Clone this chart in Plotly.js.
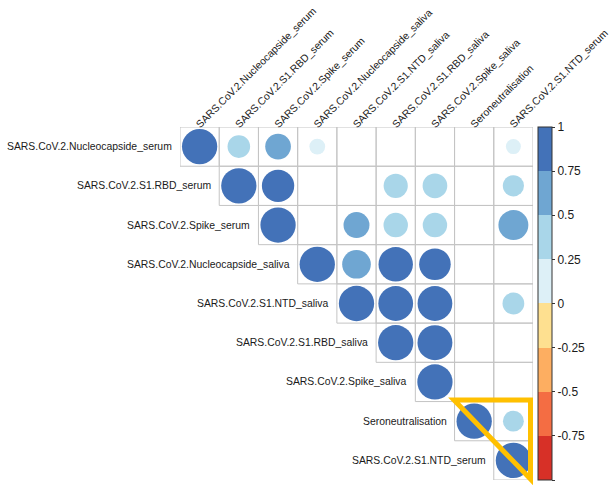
<!DOCTYPE html>
<html>
<head>
<meta charset="utf-8">
<script src="https://cdn.plot.ly/plotly-3.0.1.min.js"></script>
<style>html,body{margin:0;padding:0;background:#fff;}#chart{width:611px;height:487px;}</style>
</head>
<body>
<div id="chart"></div>
<script>
// Variables (same order for rows and columns)
const variables = [
  "SARS.CoV.2.Nucleocapside_serum",
  "SARS.CoV.2.S1.RBD_serum",
  "SARS.CoV.2.Spike_serum",
  "SARS.CoV.2.Nucleocapside_saliva",
  "SARS.CoV.2.S1.NTD_saliva",
  "SARS.CoV.2.S1.RBD_saliva",
  "SARS.CoV.2.Spike_saliva",
  "Seroneutralisation",
  "SARS.CoV.2.S1.NTD_serum"
];

// Upper-triangle correlations (null = not significant / blank)
const row0 = [1, 0.41, 0.53, 0.20, null, null, null, null, 0.18];
const row1 = [null, 1, 0.84, null, null, 0.47, 0.49, null, 0.36];
const row2 = [null, null, 1, null, 0.54, 0.48, 0.48, null, 0.72];
const row3 = [null, null, null, 1, 0.66, 0.95, 0.80, null, null];
const row4 = [null, null, null, null, 1, 0.97, 0.97, null, 0.38];
const row5 = [null, null, null, null, null, 1, 0.98, null, null];
const row6 = [null, null, null, null, null, null, 1, null, null];
const row7 = [null, null, null, null, null, null, null, 1, 0.35];
const row8 = [null, null, null, null, null, null, null, null, 1];
const corrRows = [row0, row1, row2, row3, row4, row5, row6, row7, row8];

// Colorbar tick labels
const cbTickVals = [-1, -0.75, -0.5, -0.25, 0, 0.25, 0.5, 0.75, 1];
const cbTickText = ["-1", "-0.75", "-0.5", "-0.25", "0", "0.25", "0.5", "0.75", "1"];

// 8-bin diverging palette (RdYlBu)
const binColors = ["#D73027", "#F46D43", "#FDAE61", "#FEE090", "#DDF0F7", "#A9D6E9", "#6FA6D2", "#4372B8"];

const W = 611, H = 487;
const margin = {l: 180, r: 78, t: 127, b: 7};
const plotW = W - margin.l - margin.r;
const plotH = H - margin.t - margin.b;
const n = variables.length;
const cellPx = plotW / n;

// discrete colorscale
const colorscale = [];
binColors.forEach((c, k) => {
  colorscale.push([k / binColors.length, c]);
  colorscale.push([(k + 1) / binColors.length, c]);
});

const xs = [], ys = [], vals = [], sizes = [], texts = [];
corrRows.forEach((row, i) => {
  row.forEach((v, j) => {
    if (v === null) return;
    xs.push(j); ys.push(i); vals.push(v);
    sizes.push(0.9 * Math.sqrt(Math.abs(v)) * cellPx);
    texts.push(variables[i] + " / " + variables[j] + ": " + v);
  });
});

// cell borders for upper triangle
const shapes = [];
for (let i = 0; i < n; i++) {
  for (let j = i; j < n; j++) {
    shapes.push({type: "rect", xref: "x", yref: "y", layer: "below",
      x0: j - 0.5, x1: j + 0.5, y0: i - 0.5, y1: i + 0.5,
      line: {color: "#C4C4C4", width: 1}, fillcolor: "rgba(0,0,0,0)"});
  }
}

// highlight triangle (overlay annotation), given in pixel positions
const px2x = p => (p - margin.l) / plotW;
const px2y = p => (H - margin.b - p) / plotH;
const tri = [[454, 400], [530.5, 400], [530.5, 479]];
shapes.push({type: "path", xref: "paper", yref: "paper", layer: "above",
  path: "M" + tri.map(p => px2x(p[0]) + "," + px2y(p[1])).join(" L") + " Z",
  line: {color: "#FFC000", width: 5}, fillcolor: "rgba(0,0,0,0)"});

// row labels
const annotations = variables.map((name, i) => ({
  x: i - 0.5, y: i, xref: "x", yref: "y", text: name, showarrow: false,
  xanchor: "right", yanchor: "middle", xshift: -6,
  font: {family: "Liberation Sans, Arial, sans-serif", size: 10.4, color: "#1a1a1a"}
}));

const trace = {
  type: "scatter", mode: "markers", x: xs, y: ys, text: texts, hoverinfo: "text",
  marker: {
    size: sizes, sizemode: "diameter", color: vals, colorscale: colorscale,
    cmin: -1, cmax: 1, opacity: 1, line: {width: 0},
    showscale: true,
    colorbar: {
      x: (538 - margin.l) / plotW, xanchor: "left", xpad: 0,
      y: 1, yanchor: "top", ypad: 0, len: 1, lenmode: "fraction",
      thickness: 14, thicknessmode: "pixels",
      outlinewidth: 1, outlinecolor: "#333", borderwidth: 0,
      tickmode: "array", tickvals: cbTickVals, ticktext: cbTickText,
      ticks: "outside", ticklen: 3, tickcolor: "#333",
      tickfont: {family: "Liberation Sans, Arial, sans-serif", size: 12, color: "#1a1a1a"}
    }
  },
  showlegend: false
};

const layout = {
  width: W, height: H, margin: margin,
  paper_bgcolor: "#fff", plot_bgcolor: "#fff",
  xaxis: {range: [-0.5, n - 0.5], side: "top", showgrid: false, zeroline: false, showline: false,
    tickmode: "array", tickvals: variables.map((_, j) => j), ticktext: variables,
    tickangle: -45, ticks: "", fixedrange: true, ticklabeloverflow: "allow",
    ticklabelstandoff: -6, ticklabelshift: -3,
    tickfont: {family: "Liberation Sans, Arial, sans-serif", size: 10.4, color: "#1a1a1a"}},
  yaxis: {range: [n - 0.5, -0.5], showgrid: false, zeroline: false, showline: false,
    showticklabels: false, ticks: "", fixedrange: true},
  shapes: shapes, annotations: annotations, hovermode: "closest"
};

Plotly.newPlot("chart", [trace], layout, {displayModeBar: false, staticPlot: false});
</script>
</body>
</html>
